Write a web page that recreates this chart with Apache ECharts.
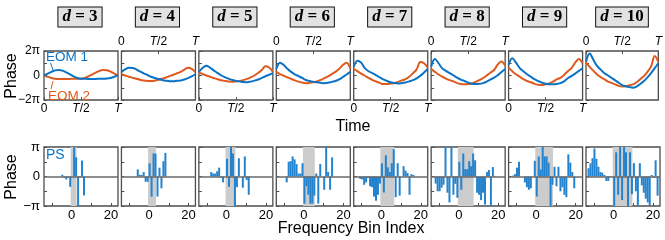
<!DOCTYPE html>
<html><head><meta charset="utf-8">
<script src="https://cdn.jsdelivr.net/npm/echarts@6/dist/echarts.min.js"></script>
<style>html,body{margin:0;padding:0;background:#fff}#c{width:665px;height:240px}</style>
</head><body><div id="c"></div>
<script>
// ---------- DATA ----------
const dims = [3, 4, 5, 6, 7, 8, 9, 10];
const timeGrid = [0,0.05,0.1,0.15,0.2,0.25,0.3,0.35,0.4,0.45,0.5,0.55,0.6,0.65,0.7,0.75,0.8,0.85,0.9,0.95,1]; // fraction of T
const timeTicks = [0, 0.5, 1];
const timeTickLabels = ['0', '{i|T}/2', '{i|T}'];
const phaseTicksTop = [-2, 0, 2];            // in units of pi
const phaseLabelsTop = ['\u22122\u03c0', '0', '2\u03c0'];
const phaseTicksBot = [-1, 0, 1];
const phaseLabelsBot = ['\u2212\u03c0', '0', '\u03c0'];
const binLabels = [0, 20];
const binTicks = [-10, 0, 10, 20];

// EOM phases (units of pi) sampled on timeGrid
const eom1D3 = [0,0.15,0.3,0.42,0.45,0.4,0.26,0.1,-0.07,-0.2,-0.26,-0.27,-0.28,-0.28,-0.28,-0.27,-0.27,-0.25,-0.2,-0.1,0.03];
const eom2D3 = [0,-0.1,-0.2,-0.26,-0.28,-0.28,-0.28,-0.28,-0.27,-0.27,-0.26,-0.2,-0.07,0.08,0.24,0.38,0.45,0.43,0.32,0.16,0.02];
const eom1D4 = [0.3,0.5,0.63,0.62,0.5,0.33,0.18,0.04,-0.1,-0.2,-0.28,-0.36,-0.42,-0.46,-0.46,-0.43,-0.4,-0.33,-0.22,-0.08,0.1];
const eom2D4 = [0.1,0,-0.1,-0.18,-0.26,-0.34,-0.4,-0.44,-0.45,-0.42,-0.35,-0.26,-0.16,-0.05,0.06,0.18,0.3,0.48,0.63,0.55,0.28];
const eom1D5 = [0.3,0.62,0.8,0.65,0.42,0.22,0.02,-0.14,-0.26,-0.36,-0.44,-0.48,-0.53,-0.55,-0.5,-0.42,-0.33,-0.2,-0.06,0.06,0.18];
const eom2D5 = [0.26,0.12,0,-0.1,-0.2,-0.3,-0.38,-0.44,-0.49,-0.5,-0.48,-0.45,-0.38,-0.28,-0.15,0,0.2,0.45,0.75,0.65,0.3];
const eom1D6 = [0.53,1.05,0.85,0.55,0.3,0.1,-0.05,-0.2,-0.37,-0.45,-0.5,-0.56,-0.6,-0.63,-0.6,-0.52,-0.45,-0.32,-0.12,0.08,0.3];
const eom2D6 = [0.3,0.12,-0.02,-0.15,-0.28,-0.4,-0.5,-0.58,-0.63,-0.6,-0.55,-0.48,-0.36,-0.22,-0.08,0.12,0.3,0.55,0.85,1.05,0.58];
const eom1D7 = [0.72,1.2,1.05,0.6,0.35,0.2,0.04,-0.15,-0.32,-0.45,-0.55,-0.62,-0.65,-0.62,-0.57,-0.48,-0.38,-0.23,-0.02,0.25,0.53];
const eom2D7 = [0.53,0.35,0.15,-0.02,-0.2,-0.35,-0.48,-0.6,-0.7,-0.7,-0.66,-0.62,-0.52,-0.4,-0.3,-0.1,0.18,0.5,1.1,1.0,0.64];
const eom1D8 = [0.72,1.35,1.0,0.58,0.38,0.2,0.02,-0.18,-0.33,-0.45,-0.58,-0.68,-0.7,-0.68,-0.62,-0.5,-0.33,-0.18,0.02,0.28,0.53];
const eom2D8 = [0.53,0.3,0.08,-0.1,-0.25,-0.38,-0.48,-0.62,-0.7,-0.72,-0.7,-0.65,-0.52,-0.38,-0.22,0,0.22,0.45,0.9,1.15,0.8];
const eom1D9 = [0.86,1.4,1.05,0.6,0.35,0.1,-0.1,-0.3,-0.45,-0.58,-0.67,-0.72,-0.72,-0.7,-0.62,-0.48,-0.22,-0.05,0.15,0.38,0.58];
const eom2D9 = [0.64,0.35,0.1,-0.1,-0.3,-0.45,-0.55,-0.68,-0.76,-0.78,-0.72,-0.64,-0.5,-0.32,-0.2,0.05,0.35,0.6,1.05,1.35,1.0];
const eom1D10 = [1.13,1.8,1.3,0.8,0.5,0.2,0.02,-0.18,-0.38,-0.58,-0.78,-0.88,-0.95,-1.0,-0.9,-0.7,-0.45,-0.15,0.2,0.6,1.0];
const eom2D10 = [1.07,0.7,0.4,0.1,-0.12,-0.3,-0.48,-0.6,-0.72,-0.85,-0.9,-0.88,-0.8,-0.72,-0.55,-0.3,-0.05,0.3,0.75,1.6,1.13];

// Phase spectrum (units of pi), consecutive frequency bins starting at psStart
const psStart = [-5, -6, -8, -9, -11, -12, -12, -13];
const psD3 = [0.06,-0.04,-0.1,-0.04,-0.35,null,1.0,0.65,-1.0,-0.03,0.54,-0.64];
const psD4 = [0.24,0.06,0.05,0.15,-0.18,-0.18,0.45,-0.68,0.78,0.78,-0.68,0.3,-0.4,0.52,0.8];
const psD5 = [0.15,0.1,0.1,0.18,0.3,-0.05,-0.2,null,0.6,-0.35,1.0,0.78,-1.0,-0.36,0.62,null,-0.38,0.68,-0.12,-0.62];
const psD6 = [-0.2,0.5,0.52,0.68,0.58,0.42,0.1,0.1,0.45,-0.92,-0.33,-0.62,-0.92,-0.92,-0.65,0.1,-0.92,0.42,null,-0.45,1.0,0.15,-0.45,0.65];
const psD7 = [-0.08,-0.1,-0.28,-0.2,-0.05,-0.33,-0.36,-0.68,-0.82,-0.62,-0.24,0.45,-0.54,0.72,0.31,0.15,0.45,0.93,-0.7,0.45,-0.65,null,0.35,0.2,0.12,-0.62,0.08,0.05];
const psD8 = [-0.24,-0.5,-0.5,-0.38,-0.28,1.0,-0.55,-0.88,1.0,-0.62,-0.25,-0.72,0.5,-0.45,0.78,0.25,0.25,0.52,0.35,0.78,0.55,-0.55,-0.62,-0.8,-0.55,-0.95,0.15,0.22,-1.0,0.32,0.02];
const psD9 = [0.03,0.08,0.3,0.5,null,null,-0.2,-0.36,-0.45,-0.4,null,0.53,-0.68,0.68,0.24,1.0,0.68,0.68,0.47,-1.0,-0.28,0.33,-0.33,0.33,-0.5,-0.36,-0.62,-0.7,0.75,0.47,0.15,-0.4];
const psD10 = [0.28,0.45,0.62,0.95,0.6,0.33,0.15,0.13,0.05,-0.15,-0.15,0.02,null,-1.0,0.82,-0.62,1.0,-0.8,1.0,0.82,-1.0,0.82,-0.6,0.45,-0.5,-1.0,0.45,-0.3,-0.55,-0.75,-0.88,-0.98,0.05,-0.05,0.55,-0.65];

const eom1 = [eom1D3, eom1D4, eom1D5, eom1D6, eom1D7, eom1D8, eom1D9, eom1D10];
const eom2 = [eom2D3, eom2D4, eom2D5, eom2D6, eom2D7, eom2D8, eom2D9, eom2D10];
const ps = [psD3, psD4, psD5, psD6, psD7, psD8, psD9, psD10];

// ---------- LAYOUT / STYLE ----------
const BLUE = '#0a72c4', ORANGE = '#de5a1e', BAR = '#2383cf';
const FONT = '"Liberation Sans", Arial, sans-serif';
const SERIF = '"Liberation Serif", "Times New Roman", serif';
const W = 74, STEP = 77.43, LEFT0 = 44;
const TOP_T = 51, TOP_H = 49, BOT_T = 147, BOT_H = 59;
const FRAME = '#4d4d4d';

const grids = [], xAxes = [], yAxes = [], series = [], graphics = [];

function labelFrom(ticks, labels) {
  return v => { const k = ticks.findIndex(t => Math.abs(t - v) < 1e-9); return k >= 0 ? labels[k] : ''; };
}
const noLine = { show: false, onZero: false };
const tick = { show: true, inside: true, length: 3, lineStyle: { color: FRAME } };

dims.forEach((d, i) => {
  const left = LEFT0 + i * STEP;
  const gT = 2 * i, gB = 2 * i + 1;
  grids.push({ left, top: TOP_T, width: W, height: TOP_H, show: true, borderColor: FRAME, borderWidth: 1.3, backgroundColor: '#fff' });
  grids.push({ left, top: BOT_T, width: W, height: BOT_H, show: true, borderColor: FRAME, borderWidth: 1.3, backgroundColor: '#fff' });

  xAxes.push({
    gridIndex: gT, type: 'value', min: 0, max: 1, interval: 0.5,
    position: (i % 2) ? 'top' : 'bottom',
    axisLine: noLine, splitLine: { show: false }, axisTick: tick,
    axisLabel: {
      margin: 3, fontSize: 12, color: '#000', fontFamily: FONT,
      showMinLabel: true, showMaxLabel: true,
      formatter: labelFrom(timeTicks, timeTickLabels),
      rich: { i: { fontStyle: 'italic', fontSize: 12, fontFamily: FONT, color: '#000' } }
    }
  });
  yAxes.push({
    gridIndex: gT, type: 'value', min: -2, max: 2, interval: 1,
    axisLine: noLine, splitLine: { show: false }, axisTick: tick,
    axisLabel: { show: i === 0, margin: 4, fontSize: 12, color: '#000', fontFamily: FONT,
      formatter: labelFrom(phaseTicksTop, phaseLabelsTop) }
  });
  xAxes.push({
    gridIndex: gB, type: 'value', min: -14, max: 23.5,
    axisLine: noLine, splitLine: { show: false },
    axisTick: Object.assign({}, tick, { customValues: binTicks }),
    axisLabel: { margin: 3, fontSize: 13, color: '#000', fontFamily: FONT, customValues: binLabels }
  });
  yAxes.push({
    gridIndex: gB, type: 'value', min: -1, max: 1, interval: 0.5,
    axisLine: noLine, splitLine: { show: false }, axisTick: tick,
    axisLabel: { show: i === 0, margin: 4, fontSize: 13, color: '#000', fontFamily: FONT,
      formatter: labelFrom(phaseTicksBot, phaseLabelsBot) }
  });

  series.push({ type: 'line', xAxisIndex: gT, yAxisIndex: gT, showSymbol: false, smooth: 0.35, z: 3,
    lineStyle: { color: BLUE, width: 2 }, data: timeGrid.map((t, k) => [t, eom1[i][k]]) });
  series.push({ type: 'line', xAxisIndex: gT, yAxisIndex: gT, showSymbol: false, smooth: 0.35, z: 2,
    lineStyle: { color: ORANGE, width: 2 }, data: timeGrid.map((t, k) => [t, eom2[i][k]]) });

  // gray band covering bins 0 .. d-1
  series.push({ type: 'bar', xAxisIndex: gB, yAxisIndex: gB, data: [], z: 1, silent: true,
    markArea: { silent: true, itemStyle: { color: '#cccccc', opacity: 1 },
      data: [[{ xAxis: -0.5 }, { xAxis: d - 0.5 }]] } });
  series.push({ type: 'bar', xAxisIndex: gB, yAxisIndex: gB, z: 3, barWidth: 2, silent: true,
    itemStyle: { color: BAR },
    data: ps[i].map((v, k) => [psStart[i] + k, v]).filter(p => p[1] !== null) });
  series.push({ type: 'line', xAxisIndex: gB, yAxisIndex: gB, data: [], z: 4, silent: true,
    markLine: { silent: true, symbol: ['none', 'none'], label: { show: false },
      lineStyle: { color: '#6a6a6a', width: 1.5, type: 'solid' }, data: [{ yAxis: 0 }] } });

  graphics.push({ type: 'text', x: left + W / 2 - 1, y: 17, z: 10,
    style: { text: '{i|d}{n| = ' + d + '}', align: 'center', verticalAlign: 'middle',
      backgroundColor: '#e2e2e2', borderColor: '#111', borderWidth: 1, padding: [1, 4, 1, 4],
      rich: { i: { fontFamily: SERIF, fontStyle: 'italic', fontWeight: 'bold', fontSize: 17, fill: '#000' },
              n: { fontFamily: SERIF, fontWeight: 'bold', fontSize: 17, fill: '#000' } } } });
});

graphics.push(
  { type: 'text', x: 12, y: 76, rotation: Math.PI / 2, style: { text: 'Phase', font: '16px ' + FONT, fill: '#000', align: 'center', verticalAlign: 'middle' } },
  { type: 'text', x: 12, y: 177, rotation: Math.PI / 2, style: { text: 'Phase', font: '16px ' + FONT, fill: '#000', align: 'center', verticalAlign: 'middle' } },
  { type: 'text', x: 353, y: 127, style: { text: 'Time', font: '16px ' + FONT, fill: '#000', align: 'center', verticalAlign: 'middle' } },
  { type: 'text', x: 351, y: 229, style: { text: 'Frequency Bin Index', font: '16px ' + FONT, fill: '#000', align: 'center', verticalAlign: 'middle' } },
  { type: 'text', x: 46, y: 57, z: 20, style: { text: 'EOM 1', font: '13.5px ' + FONT, fill: BLUE, align: 'left', verticalAlign: 'middle' } },
  { type: 'text', x: 48, y: 96, z: 20, style: { text: 'EOM 2', font: '13.5px ' + FONT, fill: ORANGE, align: 'left', verticalAlign: 'middle' } },
  { type: 'line', z: 20, shape: { x1: 50.5, y1: 63, x2: 53.5, y2: 71 }, style: { stroke: BLUE, lineWidth: 1 } },
  { type: 'line', z: 20, shape: { x1: 53, y1: 81, x2: 51, y2: 89 }, style: { stroke: ORANGE, lineWidth: 1 } },
  { type: 'text', x: 46, y: 155, z: 20, style: { text: 'PS', font: '14px ' + FONT, fill: BLUE, align: 'left', verticalAlign: 'middle' } }
);

const chart = echarts.init(document.getElementById('c'), null, { renderer: 'canvas' });
chart.setOption({
  animation: false, backgroundColor: '#fff',
  grid: grids, xAxis: xAxes, yAxis: yAxes, series, graphic: graphics
});
</script></body></html>
